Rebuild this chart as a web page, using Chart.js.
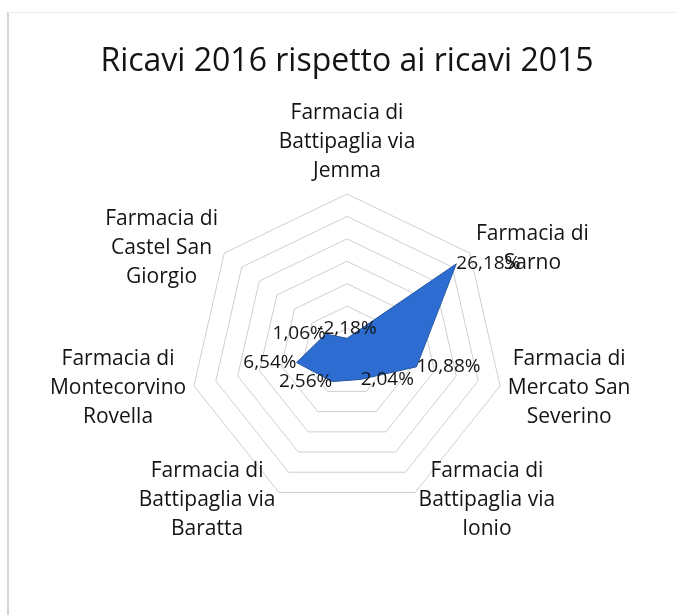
<!DOCTYPE html>
<html>
<head>
<meta charset="utf-8">
<script src="https://cdn.jsdelivr.net/npm/chart.js@4.4.1/dist/chart.umd.min.js"></script>
<style>
  html, body { margin: 0; padding: 0; background: #fff; }
  #wrap { position: relative; width: 676px; height: 615px; overflow: hidden; }
  #frame { position: absolute; left: 7px; top: 12px; width: 720px; height: 700px;
           border-left: 2px solid #d6d6d6; border-top: 1px solid #ececec; }
  #chart { position: absolute; left: 0; top: 0; }
</style>
</head>
<body>
<div id="wrap">
  <div id="frame"></div>
  <canvas id="chart" width="676" height="615"></canvas>
</div>
<script>
// categories (one entry per pharmacy, split on the lines shown in the chart)
const categories = [
  ["Farmacia di", "Battipaglia via", "Jemma"],
  ["Farmacia di", "Sarno"],
  ["Farmacia di", "Mercato San", "Severino"],
  ["Farmacia di", "Battipaglia via", "Ionio"],
  ["Farmacia di", "Battipaglia via", "Baratta"],
  ["Farmacia di", "Montecorvino", "Rovella"],
  ["Farmacia di", "Castel San", "Giorgio"]
];
// revenue 2016 vs 2015, in %
const ricaviDelta = [-2.18, 26.18, 10.88, 2.04, 2.56, 6.54, 1.06];
const scaleMin = -5;
const scaleMax = 30;
const scaleStep = 5;
const chartTitle = "Ricavi 2016 rispetto ai ricavi 2015";

const FONT = '"Open Sans", "Noto Sans", sans-serif';
const TEXT_COLOR = "#141414";

// draw a block of centered lines next to a point, pushed outward along the spoke
function drawBlock(ctx, lines, p, lineHeight) {
  const w = Math.max(...lines.map(l => ctx.measureText(l).width));
  const h = lines.length * lineHeight;
  const dx = Math.cos(p.angle);
  const dy = Math.sin(p.angle);
  let cx = p.x;
  let cy = p.y;
  if (Math.abs(dx) < 0.2) {
    cy += dy < 0 ? -h / 2 : h / 2;
  } else {
    cx += dx > 0 ? w / 2 : -w / 2;
  }
  lines.forEach((l, k) => {
    ctx.fillText(l, cx, cy - h / 2 + lineHeight * (k + 0.5));
  });
}

const excelLabels = {
  id: "excelLabels",
  afterDraw(chart) {
    const ctx = chart.ctx;
    const scale = chart.scales.r;
    ctx.save();
    ctx.fillStyle = TEXT_COLOR;
    ctx.textAlign = "center";
    ctx.textBaseline = "middle";

    // category labels around the web
    ctx.font = "500 21px " + FONT;
    chart.data.labels.forEach((lines, i) => {
      const p = scale.getPointPosition(i, scale.drawingArea + 8);
      drawBlock(ctx, lines, p, 29);
    });

    // value labels at each point
    ctx.font = "500 19px " + FONT;
    const meta = chart.getDatasetMeta(0);
    meta.data.forEach((el, i) => {
      const v = chart.data.datasets[0].data[i];
      const txt = v.toFixed(2).replace(".", ",") + "%";
      const a = scale.getPointPosition(i, 1).angle;
      drawBlock(ctx, [txt], { x: el.x, y: el.y, angle: a }, 20);
    });
    ctx.restore();
  }
};

new Chart(document.getElementById("chart"), {
  type: "radar",
  data: {
    labels: categories,
    datasets: [{
      data: ricaviDelta,
      fill: "start",
      backgroundColor: "#2d6dd2",
      borderColor: "#27589f",
      borderWidth: 1,
      pointRadius: 0
    }]
  },
  options: {
    responsive: false,
    animation: false,
    devicePixelRatio: 1,
    layout: {
      padding: { left: 18, right: 0, top: 0, bottom: 106 }
    },
    plugins: {
      legend: { display: false },
      tooltip: { enabled: false },
      title: {
        display: true,
        text: chartTitle,
        color: "#141414",
        font: { family: FONT, size: 32, weight: "500" },
        padding: { top: 43, bottom: 113 }
      }
    },
    scales: {
      r: {
        min: scaleMin,
        max: scaleMax,
        ticks: { stepSize: scaleStep, display: false },
        grid: { color: "#cfcfcf", lineWidth: 1 },
        angleLines: { display: false },
        pointLabels: { display: false }
      }
    }
  },
  plugins: [excelLabels]
});
</script>
</body>
</html>
